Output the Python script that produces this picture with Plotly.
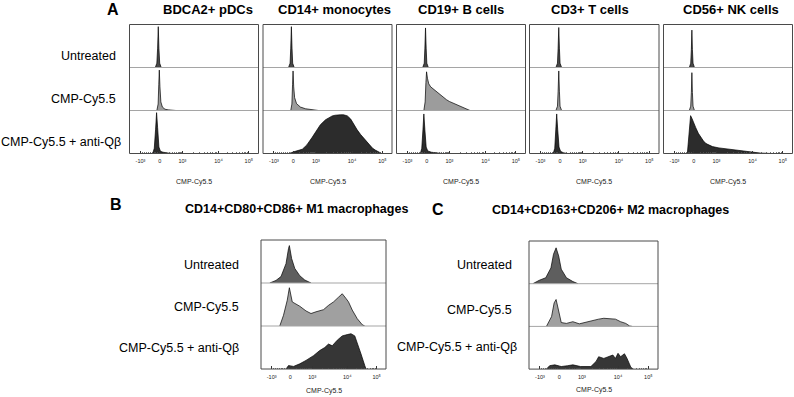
import math
import plotly.graph_objects as go

W, H = 794, 397

# ---------------- text / categories ----------------
row_labels = ["Untreated", "CMP-Cy5.5", "CMP-Cy5.5 + anti-Qβ"]
panel_a_titles = ["BDCA2+ pDCs", "CD14+ monocytes", "CD19+ B cells", "CD3+ T cells", "CD56+ NK cells"]
panel_b_title = "CD14+CD80+CD86+ M1 macrophages"
panel_c_title = "CD14+CD163+CD206+ M2 macrophages"
axis_title = "CMP-Cy5.5"

# biexponential display scale (0..1 across each plot box)
tick_labels = ["-10³", "0", "10³", "10⁴", "10⁵"]
tick_values = [0.085, 0.235, 0.41, 0.69, 0.925]

# ---------------- histogram data (x: display position, y: fraction of row height) ----------------
pdc_untreated_x = [0.200, 0.212, 0.218, 0.223, 0.228, 0.234, 0.246]
pdc_untreated_y = [0, 0.10, 0.45, 0.95, 0.45, 0.10, 0]
pdc_cmp_x = [0.212, 0.222, 0.227, 0.231, 0.236, 0.243, 0.255, 0.275, 0.30, 0.33, 0.36]
pdc_cmp_y = [0, 0.15, 0.60, 0.94, 0.55, 0.20, 0.08, 0.03, 0.015, 0.01, 0]
pdc_antiqb_x = [0.180, 0.192, 0.202, 0.210, 0.218, 0.228, 0.240, 0.26, 0.30, 0.33]
pdc_antiqb_y = [0, 0.12, 0.55, 0.95, 0.60, 0.15, 0.05, 0.03, 0.01, 0]

mono_untreated_x = [0.198, 0.210, 0.215, 0.220, 0.225, 0.230, 0.242]
mono_untreated_y = [0, 0.10, 0.45, 0.95, 0.45, 0.10, 0]
mono_cmp_x = [0.215, 0.224, 0.229, 0.233, 0.238, 0.245, 0.26, 0.29, 0.33, 0.38, 0.43]
mono_cmp_y = [0, 0.15, 0.60, 0.92, 0.55, 0.30, 0.16, 0.08, 0.04, 0.015, 0]
mono_antiqb_x = [0.20, 0.215, 0.25, 0.305, 0.34, 0.38, 0.415, 0.445, 0.485, 0.515, 0.537, 0.56,
                 0.58, 0.60, 0.625, 0.654, 0.68, 0.705, 0.73, 0.757, 0.79, 0.82, 0.85, 0.87, 0.895, 0.92]
mono_antiqb_y = [0, 0.02, 0.05, 0.10, 0.20, 0.37, 0.52, 0.67, 0.785, 0.84, 0.875, 0.89,
                 0.90, 0.90, 0.90, 0.875, 0.80, 0.67, 0.55, 0.44, 0.32, 0.21, 0.12, 0.08, 0.04, 0]

bcell_untreated_x = [0.203, 0.215, 0.220, 0.225, 0.230, 0.235, 0.247]
bcell_untreated_y = [0, 0.10, 0.45, 0.92, 0.45, 0.10, 0]
bcell_cmp_x = [0.212, 0.222, 0.228, 0.233, 0.24, 0.25, 0.265, 0.285, 0.31, 0.336, 0.36, 0.388,
               0.41, 0.44, 0.465, 0.49, 0.52, 0.555, 0.57]
bcell_cmp_y = [0, 0.20, 0.65, 0.90, 0.75, 0.62, 0.55, 0.50, 0.43, 0.37, 0.30, 0.25,
               0.21, 0.17, 0.14, 0.11, 0.06, 0.01, 0]
bcell_antiqb_x = [0.185, 0.196, 0.205, 0.212, 0.220, 0.230, 0.242, 0.27, 0.31, 0.35]
bcell_antiqb_y = [0, 0.12, 0.55, 0.92, 0.55, 0.15, 0.06, 0.03, 0.015, 0]

tcell_untreated_x = [0.204, 0.216, 0.221, 0.226, 0.231, 0.236, 0.248]
tcell_untreated_y = [0, 0.10, 0.45, 0.93, 0.45, 0.10, 0]
tcell_cmp_x = [0.204, 0.216, 0.221, 0.226, 0.231, 0.236, 0.248]
tcell_cmp_y = [0, 0.10, 0.45, 0.92, 0.45, 0.10, 0]
tcell_antiqb_x = [0.183, 0.195, 0.203, 0.210, 0.218, 0.228, 0.240, 0.26, 0.29]
tcell_antiqb_y = [0, 0.12, 0.55, 0.92, 0.55, 0.15, 0.05, 0.02, 0]

nk_untreated_x = [0.200, 0.211, 0.216, 0.220, 0.224, 0.229, 0.240]
nk_untreated_y = [0, 0.10, 0.42, 0.87, 0.42, 0.10, 0]
nk_cmp_x = [0.200, 0.211, 0.216, 0.220, 0.224, 0.229, 0.240]
nk_cmp_y = [0, 0.10, 0.42, 0.88, 0.42, 0.10, 0]
nk_antiqb_x = [0.185, 0.195, 0.203, 0.21, 0.22, 0.235, 0.25, 0.27, 0.29, 0.31, 0.33, 0.355,
               0.38, 0.43, 0.48, 0.53, 0.585, 0.64, 0.69, 0.75, 0.80, 0.83]
nk_antiqb_y = [0, 0.30, 0.70, 0.88, 0.82, 0.70, 0.60, 0.47, 0.37, 0.29, 0.23, 0.19,
               0.16, 0.13, 0.11, 0.085, 0.06, 0.04, 0.02, 0.01, 0.005, 0]

m1_untreated_x = [0.07, 0.12, 0.16, 0.20, 0.22, 0.227, 0.245, 0.27, 0.31, 0.35, 0.40]
m1_untreated_y = [0, 0.06, 0.15, 0.45, 0.80, 0.87, 0.57, 0.34, 0.17, 0.07, 0]
m1_cmp_x = [0.15, 0.18, 0.21, 0.227, 0.25, 0.275, 0.31, 0.36, 0.40, 0.44, 0.50, 0.54, 0.58,
            0.62, 0.65, 0.68, 0.70, 0.73, 0.77, 0.81, 0.83]
m1_cmp_y = [0, 0.25, 0.60, 0.89, 0.56, 0.52, 0.46, 0.35, 0.29, 0.33, 0.38, 0.48, 0.56,
            0.67, 0.75, 0.64, 0.56, 0.37, 0.17, 0.03, 0]
m1_antiqb_x = [0.20, 0.22, 0.26, 0.31, 0.36, 0.42, 0.47, 0.51, 0.54, 0.57, 0.61, 0.65,
               0.69, 0.72, 0.75, 0.77, 0.80, 0.83, 0.84]
m1_antiqb_y = [0, 0.08, 0.06, 0.12, 0.20, 0.31, 0.43, 0.50, 0.58, 0.54, 0.67, 0.77,
               0.80, 0.82, 0.77, 0.58, 0.35, 0.08, 0]

m2_untreated_x = [0.03, 0.08, 0.13, 0.17, 0.19, 0.21, 0.23, 0.25, 0.29, 0.34, 0.38]
m2_untreated_y = [0, 0.08, 0.14, 0.37, 0.69, 0.84, 0.65, 0.34, 0.14, 0.05, 0]
m2_cmp_x = [0.135, 0.175, 0.195, 0.21, 0.225, 0.25, 0.29, 0.34, 0.39, 0.45, 0.50, 0.54,
            0.58, 0.63, 0.67, 0.71, 0.75, 0.78, 0.80]
m2_cmp_y = [0, 0.23, 0.55, 0.63, 0.43, 0.09, 0.07, 0.11, 0.06, 0.11, 0.15, 0.17,
            0.19, 0.17, 0.17, 0.11, 0.07, 0.01, 0]
m2_antiqb_x = [0.135, 0.16, 0.20, 0.25, 0.30, 0.34, 0.40, 0.48, 0.52, 0.54, 0.58, 0.62,
               0.65, 0.67, 0.69, 0.71, 0.74, 0.76, 0.79, 0.81]
m2_antiqb_y = [0, 0.08, 0.10, 0.06, 0.08, 0.10, 0.06, 0.06, 0.18, 0.29, 0.25, 0.29,
               0.33, 0.25, 0.37, 0.29, 0.36, 0.25, 0.04, 0]

# ---------------- styling ----------------
FONT = "Liberation Sans, Arial, sans-serif"
fills_a = ["#484848", "#9c9c9c", "#2c2c2c"]
fills_bc = ["#5e5e5e", "#a0a0a0", "#363636"]

panel_a_data = [
    [(pdc_untreated_x, pdc_untreated_y), (pdc_cmp_x, pdc_cmp_y), (pdc_antiqb_x, pdc_antiqb_y)],
    [(mono_untreated_x, mono_untreated_y), (mono_cmp_x, mono_cmp_y), (mono_antiqb_x, mono_antiqb_y)],
    [(bcell_untreated_x, bcell_untreated_y), (bcell_cmp_x, bcell_cmp_y), (bcell_antiqb_x, bcell_antiqb_y)],
    [(tcell_untreated_x, tcell_untreated_y), (tcell_cmp_x, tcell_cmp_y), (tcell_antiqb_x, tcell_antiqb_y)],
    [(nk_untreated_x, nk_untreated_y), (nk_cmp_x, nk_cmp_y), (nk_antiqb_x, nk_antiqb_y)],
]
panel_b_data = [(m1_untreated_x, m1_untreated_y), (m1_cmp_x, m1_cmp_y), (m1_antiqb_x, m1_antiqb_y)]
panel_c_data = [(m2_untreated_x, m2_untreated_y), (m2_cmp_x, m2_cmp_y), (m2_antiqb_x, m2_antiqb_y)]

# minor ticks of the biexponential axis
minor_vals = []
for k in range(1, 10):
    minor_vals.append(tick_values[0] + (tick_values[1] - tick_values[0]) * k / 10)
    minor_vals.append(tick_values[1] + (tick_values[2] - tick_values[1]) * math.log10(1 + 9 * k / 10))
for k in range(2, 10):
    minor_vals.append(tick_values[2] + (tick_values[3] - tick_values[2]) * math.log10(k))
    minor_vals.append(tick_values[3] + (tick_values[4] - tick_values[3]) * math.log10(k))

fig = go.Figure()
layout = dict(width=W, height=H, margin=dict(l=0, r=0, t=0, b=0),
              paper_bgcolor="white", plot_bgcolor="white", showlegend=False,
              font=dict(family=FONT, color="black"))
shapes, annotations = [], []
axis_counter = [0]


def py(y):
    return (H - y) / H


def add_box(x0, x1, top, rowh, data, fills, title_y_label):
    for r in range(3):
        axis_counter[0] += 1
        n = axis_counter[0]
        xa = "xaxis" if n == 1 else f"xaxis{n}"
        ya = "yaxis" if n == 1 else f"yaxis{n}"
        xr = "x" if n == 1 else f"x{n}"
        yr = "y" if n == 1 else f"y{n}"
        yt = top + r * rowh
        yb = yt + rowh
        bottom = r == 2
        xax = dict(domain=[x0 / W, x1 / W], range=[0, 1], anchor=yr, showgrid=False,
                   zeroline=False, showline=False, fixedrange=True)
        if bottom:
            xax.update(tickmode="array", tickvals=tick_values, ticktext=tick_labels,
                       ticks="inside", ticklen=3, tickwidth=1, tickcolor="#333",
                       tickfont=dict(size=5.5, family=FONT, color="#222"), ticklabelstandoff=3,
                       minor=dict(tickmode="array", tickvals=minor_vals, ticks="inside",
                                  ticklen=1.5, tickwidth=0.8, tickcolor="#555"))
        else:
            xax.update(showticklabels=False, ticks="")
        yax = dict(domain=[py(yb), py(yt)], range=[0, 1], anchor=xr, showgrid=False,
                   zeroline=False, showline=False, showticklabels=False, ticks="", fixedrange=True)
        layout[xa] = xax
        layout[ya] = yax
        xs, ys = data[r]
        fig.add_trace(go.Scatter(x=xs, y=ys, xaxis=xr, yaxis=yr, mode="lines",
                                 fill="tozeroy", fillcolor=fills[r],
                                 line=dict(color="black", width=0.7), hoverinfo="skip"))
    bot = top + 3 * rowh
    for r in (1, 2):
        yy = py(top + r * rowh)
        shapes.append(dict(type="line", xref="paper", yref="paper", x0=x0 / W, x1=x1 / W,
                           y0=yy, y1=yy, line=dict(color="#a5a5a5", width=1), layer="above"))
    shapes.append(dict(type="rect", xref="paper", yref="paper", x0=x0 / W, x1=x1 / W,
                       y0=py(bot), y1=py(top), line=dict(color="#4a4a4a", width=1), layer="above"))
    annotations.append(dict(text=axis_title, xref="paper", yref="paper", x=(x0 + x1) / 2 / W,
                            y=py(bot + title_y_label), showarrow=False,
                            font=dict(size=7, family=FONT, color="#222"),
                            xanchor="center", yanchor="middle"))


# Panel A
boxes_a = [(129.5, 258.5), (263, 392), (396.5, 525.5), (529.5, 659), (663.5, 792.5)]
title_centers_a = [208, 334, 461, 590, 731]
for (x0, x1), data, t, tc in zip(boxes_a, panel_a_data, panel_a_titles, title_centers_a):
    add_box(x0, x1, 24.5, 43, data, fills_a, 28)
    annotations.append(dict(text=f"<b>{t}</b>", xref="paper", yref="paper", x=tc / W, y=py(9.5),
                            showarrow=False, font=dict(size=13, family=FONT),
                            xanchor="center", yanchor="middle"))

# Panel B and C
add_box(261, 386, 240, 43, panel_b_data, fills_bc, 22)
add_box(529, 658, 241, 42.7, panel_c_data, fills_bc, 21)

# Row labels
for lbl, yy in zip(row_labels, [56, 99, 142]):
    annotations.append(dict(text=lbl, xref="paper", yref="paper", x=(122.5 if "anti" in lbl else 118) / W,
                            y=py(yy), showarrow=False, font=dict(size=12.5, family=FONT),
                            xanchor="right", yanchor="middle"))
for lbl, yy in zip(row_labels, [265, 307, 348]):
    annotations.append(dict(text=lbl, xref="paper", yref="paper", x=241 / W, y=py(yy),
                            showarrow=False, font=dict(size=12.5, family=FONT),
                            xanchor="right", yanchor="middle"))
for lbl, yy in zip(row_labels, [265, 310, 347]):
    annotations.append(dict(text=lbl, xref="paper", yref="paper", x=(519 if "anti" in lbl else 514) / W,
                            y=py(yy), showarrow=False, font=dict(size=12.5, family=FONT),
                            xanchor="right", yanchor="middle"))

# Panel letters and titles
for letter, x, y in [("A", 113, 9.5), ("B", 116, 205), ("C", 437.5, 209)]:
    annotations.append(dict(text=f"<b>{letter}</b>", xref="paper", yref="paper", x=x / W, y=py(y),
                            showarrow=False, font=dict(size=16, family=FONT),
                            xanchor="center", yanchor="middle"))
annotations.append(dict(text=f"<b>{panel_b_title}</b>", xref="paper", yref="paper", x=296 / W,
                        y=py(209), showarrow=False, font=dict(size=12.5, family=FONT),
                        xanchor="center", yanchor="middle"))
annotations.append(dict(text=f"<b>{panel_c_title}</b>", xref="paper", yref="paper", x=610 / W,
                        y=py(210), showarrow=False, font=dict(size=12.5, family=FONT),
                        xanchor="center", yanchor="middle"))

layout["shapes"] = shapes
layout["annotations"] = annotations
fig.update_layout(**layout)
fig.write_html("out.html", config={"displayModeBar": False, "staticPlot": True},
               post_script="document.body.style.margin='0';document.body.style.overflow='hidden';")
